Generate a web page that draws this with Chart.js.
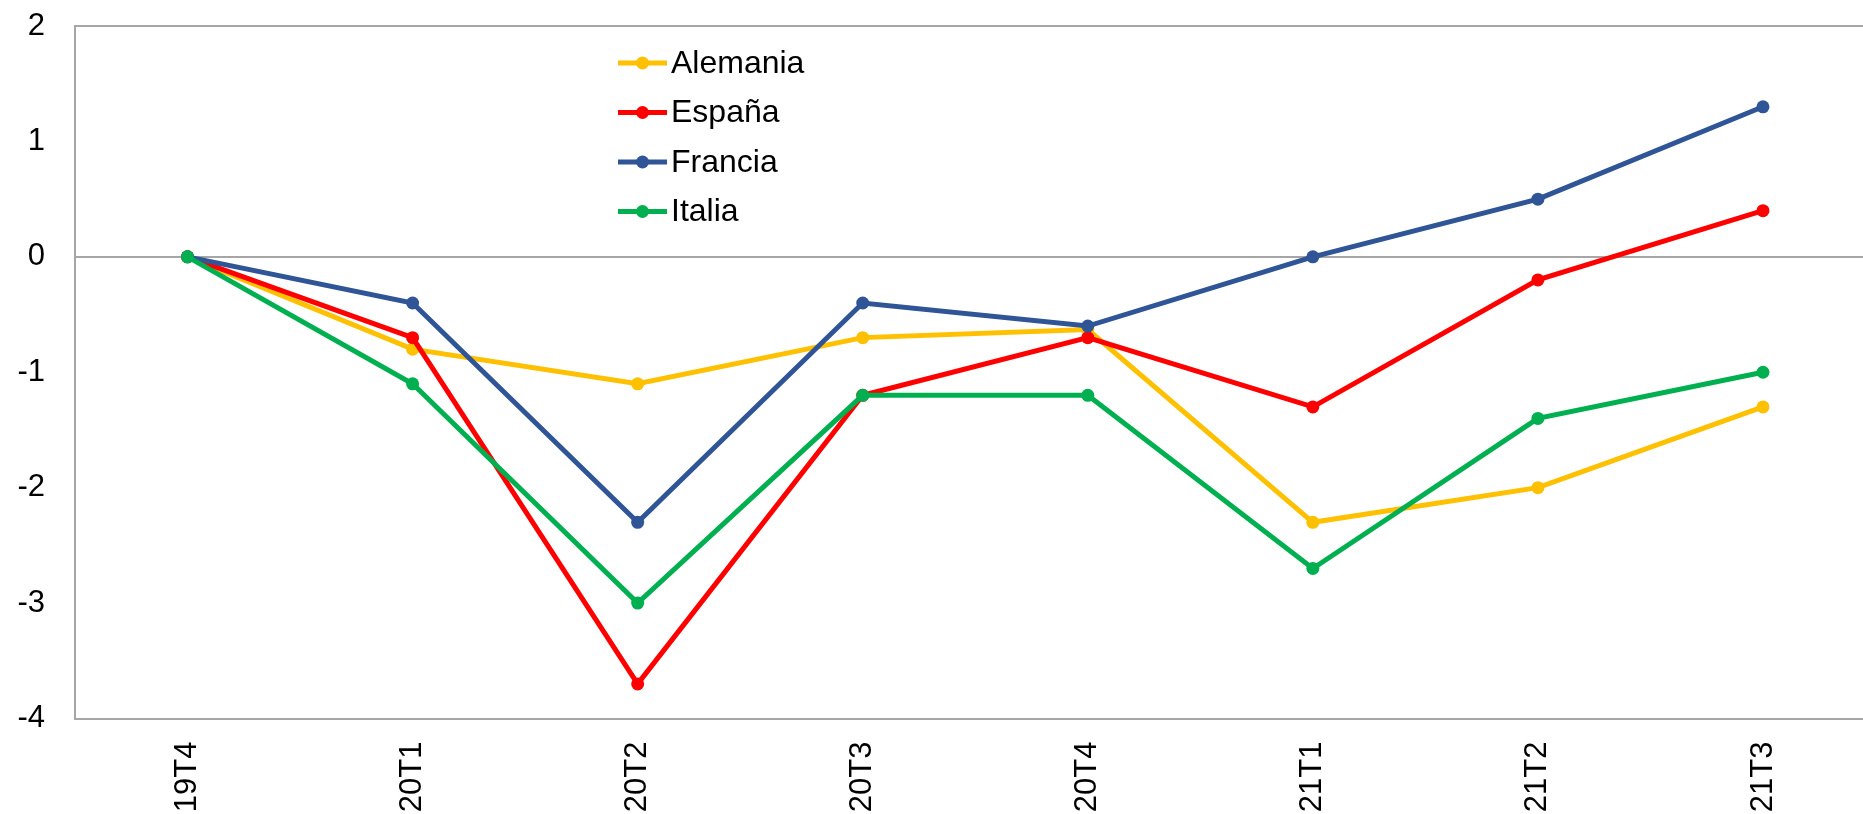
<!DOCTYPE html>
<html>
<head>
<meta charset="utf-8">
<script src="https://cdn.jsdelivr.net/npm/chart.js@4/dist/chart.umd.min.js"></script>
<style>
  html, body { margin: 0; padding: 0; background: #fff; overflow: hidden; }
  #wrap { width: 1882px; height: 814px; position: relative; }
</style>
</head>
<body>
<div id="wrap"><canvas id="chart"></canvas></div>
<script>
// data
const quarters = ['19T4', '20T1', '20T2', '20T3', '20T4', '21T1', '21T2', '21T3'];
const alemania = [0, -0.8, -1.1, -0.7, -0.63, -2.3, -2.0, -1.3];
const espana   = [0, -0.7, -3.7, -1.2, -0.7, -1.3, -0.2, 0.4];
const francia  = [0, -0.4, -2.3, -0.4, -0.6, 0, 0.5, 1.3];
const italia   = [0, -1.1, -3.0, -1.2, -1.2, -2.7, -1.4, -1.0];
const yTicks = [2, 1, 0, -1, -2, -3, -4];

const axisGrey = '#a6a6a6';
const fontFam = '"Liberation Sans", Arial, sans-serif';

function serie(label, data, color, order) {
  return {
    label: label,
    data: data,
    borderColor: color,
    backgroundColor: color,
    borderWidth: 5,
    pointRadius: 6.5,
    pointHoverRadius: 6.5,
    pointBorderWidth: 0,
    tension: 0,
    order: order
  };
}

// legend drawn inside the plot, like the original
const insideLegend = {
  id: 'insideLegend',
  afterDraw(chart) {
    const ctx = chart.ctx;
    const ds = chart.data.datasets;
    ctx.save();
    ctx.font = '32px ' + fontFam;
    ctx.textBaseline = 'middle';
    ctx.textAlign = 'left';
    ds.forEach((d, i) => {
      const y = 63 + i * 49.5;
      ctx.strokeStyle = d.borderColor;
      ctx.lineWidth = 5;
      ctx.beginPath();
      ctx.moveTo(618, y);
      ctx.lineTo(667, y);
      ctx.stroke();
      ctx.fillStyle = d.borderColor;
      ctx.beginPath();
      ctx.arc(642.5, y, 6.5, 0, Math.PI * 2);
      ctx.fill();
      ctx.fillStyle = '#000';
      ctx.fillText(d.label, 671, y + 1);
    });
    ctx.restore();
  }
};

const ctx = document.getElementById('chart').getContext('2d');
new Chart(ctx, {
  type: 'line',
  data: {
    labels: quarters,
    datasets: [
      serie('Alemania', alemania, '#ffc000', 3),
      serie('España', espana, '#ff0000', 2),
      serie('Francia', francia, '#2f5597', 1),
      serie('Italia', italia, '#00b050', 0)
    ]
  },
  options: {
    responsive: true,
    maintainAspectRatio: false,
    animation: false,
    layout: { padding: { top: 26, left: 0, right: 0, bottom: 0 } },
    plugins: {
      legend: { display: false },
      tooltip: { enabled: false }
    },
    scales: {
      x: {
        offset: true,
        grid: { display: false, drawTicks: false },
        border: { display: true, color: axisGrey, width: 2 },
        ticks: {
          color: '#000',
          font: { family: fontFam, size: 31 },
          minRotation: 90,
          maxRotation: 90,
          padding: 23
        },
        afterFit: s => { s.height = 95.5; }
      },
      y: {
        min: -4,
        max: 2,
        afterBuildTicks: s => { s.ticks = yTicks.map(v => ({ value: v })); },
        grid: {
          drawTicks: false,
          lineWidth: 2,
          color: c => (c.tick.value === 0 || c.tick.value === 2) ? axisGrey : 'rgba(0,0,0,0)'
        },
        border: { display: true, color: axisGrey, width: 2 },
        ticks: {
          color: '#000',
          font: { family: fontFam, size: 31 },
          padding: 30
        },
        afterFit: s => {
          s.width = 75;
          // tick padding should not push the plot top down
          s.paddingTop = 0;
          s.paddingBottom = 0;
        }
      }
    }
  },
  plugins: [insideLegend]
});
</script>
</body>
</html>
